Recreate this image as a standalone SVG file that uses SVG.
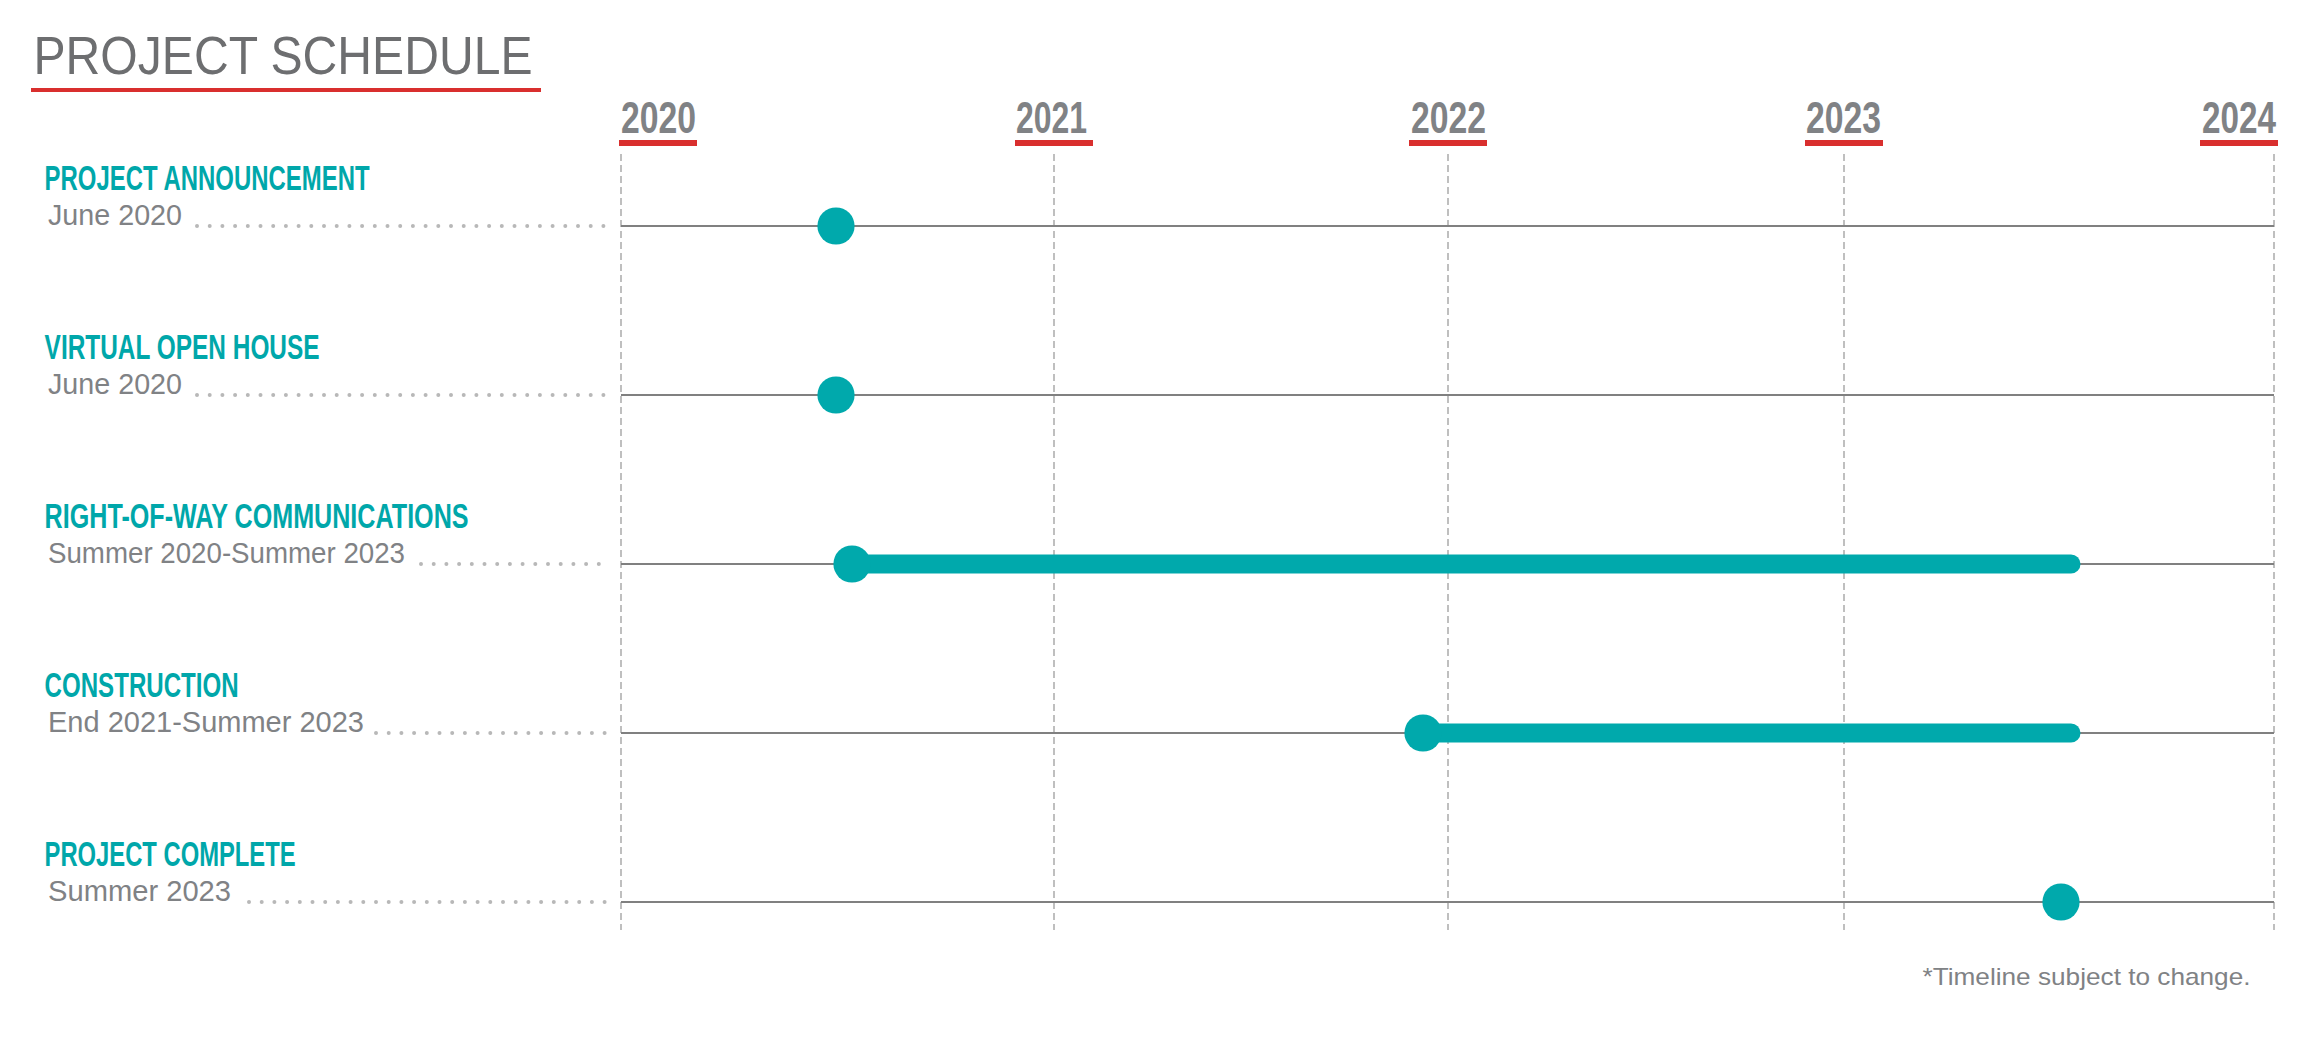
<svg xmlns="http://www.w3.org/2000/svg" width="2322" height="1040" viewBox="0 0 2322 1040">
<style>
.title{font-family:"Liberation Sans",Arial,sans-serif;font-size:54px;fill:#6d6e70}
.year{font-family:"Liberation Sans",Arial,sans-serif;font-size:44px;font-weight:bold;fill:#808285}
.head{font-family:"Liberation Sans",Arial,sans-serif;font-size:35px;font-weight:bold;fill:#00a7aa}
.sub{font-family:"Liberation Sans",Arial,sans-serif;font-size:29px;fill:#808285}
.note{font-family:"Liberation Sans",Arial,sans-serif;font-size:24px;fill:#808285}
.red{fill:#d92f2e}
.grid{stroke:#b0b0b0;stroke-width:1.6;stroke-dasharray:7 4;fill:none}
.row{stroke:#808080;stroke-width:2;fill:none}
.dots{stroke:#b8b8b8;stroke-width:4;stroke-linecap:round;stroke-dasharray:0 12.7;fill:none}
.dot{fill:#00a9ac}
.bar{stroke:#00a9ac;stroke-width:19;stroke-linecap:round;fill:none}
</style>
<rect width="2322" height="1040" fill="#ffffff"/>
<g id="title">
<text class="title" x="33.5" y="74" textLength="499" lengthAdjust="spacingAndGlyphs">PROJECT SCHEDULE</text>
<rect class="red" x="31" y="88" width="510" height="4"/>
</g>
<g id="axis">
<text class="year" x="621" y="133" textLength="75" lengthAdjust="spacingAndGlyphs">2020</text>
<rect class="red" x="619" y="140" width="78" height="6"/>
<text class="year" x="1016" y="133" textLength="71" lengthAdjust="spacingAndGlyphs">2021</text>
<rect class="red" x="1015" y="140" width="78" height="6"/>
<text class="year" x="1411" y="133" textLength="75" lengthAdjust="spacingAndGlyphs">2022</text>
<rect class="red" x="1409" y="140" width="78" height="6"/>
<text class="year" x="1806" y="133" textLength="75" lengthAdjust="spacingAndGlyphs">2023</text>
<rect class="red" x="1805" y="140" width="78" height="6"/>
<text class="year" x="2202" y="133" textLength="74" lengthAdjust="spacingAndGlyphs">2024</text>
<rect class="red" x="2200" y="140" width="78" height="6"/>
<line class="grid" x1="621" y1="154" x2="621" y2="930"/>
<line class="grid" x1="1054" y1="154" x2="1054" y2="930"/>
<line class="grid" x1="1448" y1="154" x2="1448" y2="930"/>
<line class="grid" x1="1844" y1="154" x2="1844" y2="930"/>
<line class="grid" x1="2274" y1="154" x2="2274" y2="930"/>
</g>
<g id="connectors">
<line class="row" x1="621" y1="226" x2="2274" y2="226"/>
<line class="row" x1="621" y1="395" x2="2274" y2="395"/>
<line class="row" x1="621" y1="564" x2="2274" y2="564"/>
<line class="row" x1="621" y1="733" x2="2274" y2="733"/>
<line class="row" x1="621" y1="902" x2="2274" y2="902"/>
<line class="dots" x1="197" y1="226" x2="605" y2="226"/>
<line class="dots" x1="197" y1="395" x2="605" y2="395"/>
<line class="dots" x1="421" y1="564" x2="605" y2="564"/>
<line class="dots" x1="376" y1="733" x2="605" y2="733"/>
<line class="dots" x1="249" y1="902" x2="605" y2="902"/>
</g>
<g id="project-announcement">
<text class="head" x="44.6" y="190" textLength="325" lengthAdjust="spacingAndGlyphs">PROJECT ANNOUNCEMENT</text>
<text class="sub" x="48" y="225" textLength="134" lengthAdjust="spacingAndGlyphs">June 2020</text>
<circle class="dot" cx="836" cy="226" r="18.6"/>
</g>
<g id="virtual-open-house">
<text class="head" x="44.6" y="359" textLength="275" lengthAdjust="spacingAndGlyphs">VIRTUAL OPEN HOUSE</text>
<text class="sub" x="48" y="394" textLength="134" lengthAdjust="spacingAndGlyphs">June 2020</text>
<circle class="dot" cx="836" cy="395" r="18.6"/>
</g>
<g id="right-of-way-communications">
<text class="head" x="44.6" y="528" textLength="424" lengthAdjust="spacingAndGlyphs">RIGHT-OF-WAY COMMUNICATIONS</text>
<text class="sub" x="48" y="563" textLength="357" lengthAdjust="spacingAndGlyphs">Summer 2020-Summer 2023</text>
<line class="bar" x1="852" y1="564" x2="2071" y2="564"/>
<circle class="dot" cx="852" cy="564" r="18.6"/>
</g>
<g id="construction">
<text class="head" x="44.6" y="697" textLength="194" lengthAdjust="spacingAndGlyphs">CONSTRUCTION</text>
<text class="sub" x="48" y="732" textLength="316" lengthAdjust="spacingAndGlyphs">End 2021-Summer 2023</text>
<line class="bar" x1="1423" y1="733" x2="2071" y2="733"/>
<circle class="dot" cx="1423" cy="733" r="18.6"/>
</g>
<g id="project-complete">
<text class="head" x="44.6" y="866" textLength="251" lengthAdjust="spacingAndGlyphs">PROJECT COMPLETE</text>
<text class="sub" x="48" y="901" textLength="183" lengthAdjust="spacingAndGlyphs">Summer 2023</text>
<circle class="dot" cx="2061" cy="902" r="18.6"/>
</g>
<g id="footnote">
<text class="note" x="1922.5" y="985" textLength="328" lengthAdjust="spacingAndGlyphs">*Timeline subject to change.</text>
</g>
</svg>
